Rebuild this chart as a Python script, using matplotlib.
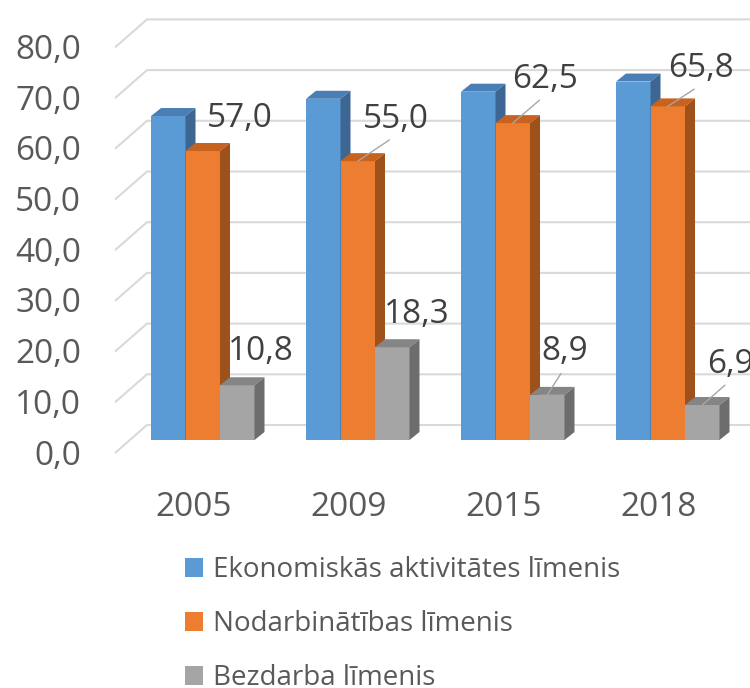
import matplotlib.pyplot as plt
from matplotlib.patches import Polygon, Patch
import numpy as np

plt.rcParams['font.family'] = ['Open Sans', 'DejaVu Sans']

# data
years = ['2005', '2009', '2015', '2018']
series_names = ['Ekonomiskās aktivitātes līmenis', 'Nodarbinātības līmenis', 'Bezdarba līmenis']
aktivitate = [63.9, 67.3, 68.7, 70.7]
nodarbinatiba = [57.0, 55.0, 62.5, 65.8]
bezdarbs = [10.8, 18.3, 8.9, 6.9]
yticks = [0, 10, 20, 30, 40, 50, 60, 70, 80]
label_texts = {1: ['57,0', '55,0', '62,5', '65,8'], 2: ['10,8', '18,3', '8,9', '6,9']}

# styles: front, top, side colours
colors = [('#5B9BD5', '#4A7FB5', '#3D6792'),
          ('#ED7D31', '#C8631F', '#9F511C'),
          ('#A5A5A5', '#858585', '#6D6D6D')]

# pixel geometry (figure is 750 x 688 px)
W, H = 750, 688
PX_CAT = 155.0      # px per category
PX_VAL = 5.07       # px per value unit
x0_px = 202.75      # centre of first group front
base_px = H - 440   # value 0 at bars' front bottom
UX = 1 / PX_CAT
UY = 1 / PX_VAL
bw = 34.5 * UX
ddx, ddy = 10 * UX, 8 * UY   # bar depth

fig = plt.figure(figsize=(W / 100, H / 100), dpi=100)
ax = fig.add_axes([0, 0, 1, 1])
ax.set_xlim(-x0_px * UX, (W - x0_px) * UX)
ax.set_ylim(-base_px * UY, (H - base_px) * UY)
ax.axis('off')

# back wall gridlines with floor diagonal
xf = (115 - x0_px) * UX
xb = (147 - x0_px) * UX
xr = (W - x0_px) * UX
for v in yticks:
    ax.plot([xf, xb, xr], [v - 13 * UY, v + 15 * UY, v + 15 * UY],
            color='#D9D9D9', lw=1.5, solid_capstyle='butt', zorder=1)
    ax.text((81 - x0_px) * UX, v - 16 * UY, f'{v:.1f}'.replace('.', ','),
            ha='right', va='center', fontsize=24, color='#595959')

series = [aktivitate, nodarbinatiba, bezdarbs]
x = np.arange(len(years))
for i in range(len(years)):
    for s, vals in enumerate(series):
        xl = x[i] + (s - 1.5) * bw
        v = vals[i]
        front, top, side = colors[s]
        ax.bar(xl, v, width=bw, align='edge', color=front, lw=0, zorder=2)
        ax.add_patch(Polygon([(xl, v), (xl + bw, v), (xl + bw + ddx, v + ddy), (xl + ddx, v + ddy)],
                             closed=True, fc=top, ec='none', zorder=2))
        ax.add_patch(Polygon([(xl + bw, 0), (xl + bw, v), (xl + bw + ddx, v + ddy), (xl + bw + ddx, ddy)],
                             closed=True, fc=side, ec='none', zorder=2))

# category labels
for i, yr in enumerate(years):
    ax.text(x[i] - 9 * UX, -68 * UY, yr, ha='center', va='center', fontsize=24, color='#595959')

# data labels: offsets in px from bar front-top centre, leader flag
offsets = {1: [(37, 33, False), (38, 42, True), (32, 44, True), (33, 38, True)],
           2: [(24, 34, False), (25, 33, False), (17, 43, True), (28, 41, True)]}
for s, offs in offsets.items():
    for i, (dx, dy, lead) in enumerate(offs):
        xc = x[i] + (s - 1) * bw
        v = series[s][i]
        ap = None
        if lead:
            ap = dict(arrowstyle='-', color='#A6A6A6', lw=1, shrinkA=2, shrinkB=0, relpos=(0.5, 0))
        ax.annotate(label_texts[s][i], xy=(xc, v), xytext=(dx, dy), textcoords='offset pixels',
                    ha='center', va='center', fontsize=24, color='#404040',
                    arrowprops=ap, zorder=5)

handles = [Patch(facecolor=c[0], edgecolor='none') for c in colors]
ax.legend(handles, series_names, loc='upper left', bbox_to_anchor=(185 / W, 1 - 556 / H),
          bbox_transform=fig.transFigure, frameon=False, fontsize=20, labelcolor='#595959',
          handlelength=0.65, handleheight=0.65, handletextpad=0.35, labelspacing=0.94,
          borderpad=0, borderaxespad=0)

plt.savefig('out.png', dpi=100)
